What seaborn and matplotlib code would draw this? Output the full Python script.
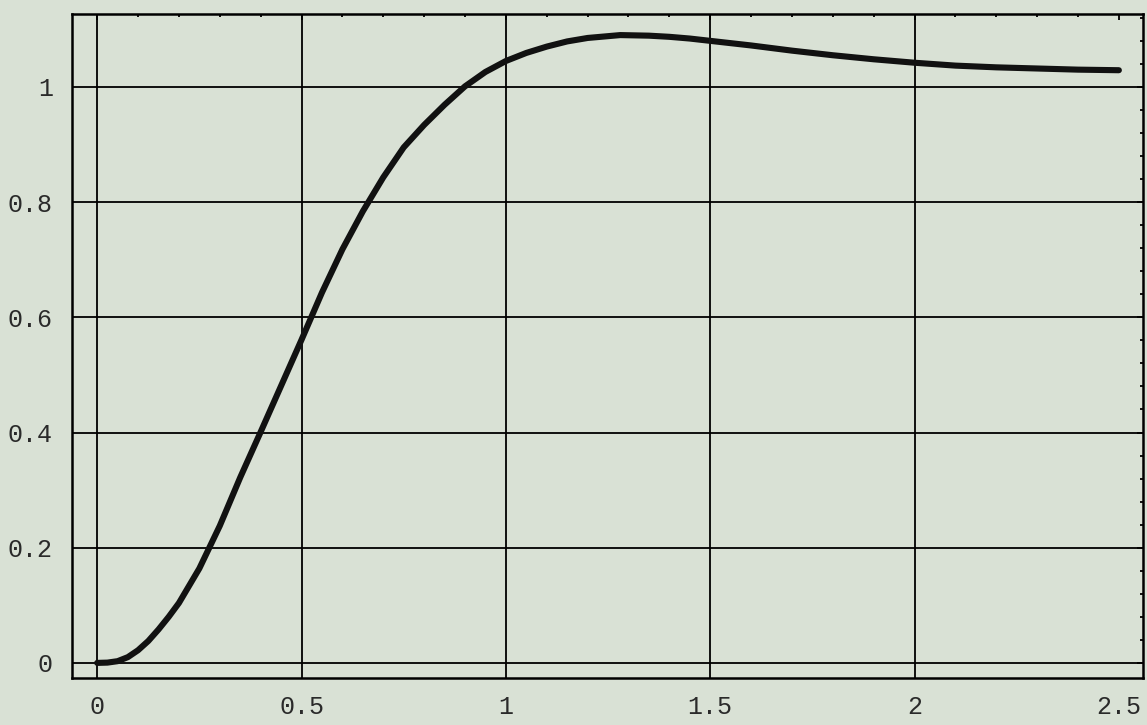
import numpy as np
import pandas as pd
import matplotlib
matplotlib.use("Agg")
import matplotlib.pyplot as plt
from matplotlib.ticker import MultipleLocator
import seaborn as sns

# values
t = [0.0, 0.025, 0.05, 0.075, 0.1, 0.125, 0.15, 0.175, 0.2, 0.25, 0.3,
     0.35, 0.4, 0.45, 0.5, 0.55, 0.6, 0.65, 0.7, 0.75, 0.8, 0.85, 0.9,
     0.95, 1.0, 1.05, 1.1, 1.15, 1.2, 1.28, 1.35, 1.4, 1.45, 1.5, 1.6,
     1.7, 1.8, 1.9, 2.0, 2.1, 2.2, 2.3, 2.4, 2.5]
resp = [0.0, 0.0005, 0.003, 0.01, 0.022, 0.038, 0.058, 0.08, 0.104, 0.164,
        0.238, 0.322, 0.401, 0.481, 0.561, 0.643, 0.718, 0.784, 0.843, 0.895,
        0.934, 0.969, 1.001, 1.026, 1.045, 1.059, 1.07, 1.079, 1.085, 1.09,
        1.089, 1.087, 1.084, 1.08, 1.072, 1.063, 1.055, 1.048, 1.042, 1.037,
        1.034, 1.032, 1.03, 1.029]

xticks = [0, 0.5, 1, 1.5, 2, 2.5]
xlabels = ["0", "0.5", "1", "1.5", "2", "2.5"]
yticks = [0, 0.2, 0.4, 0.6, 0.8, 1]
ylabels = ["0", "0.2", "0.4", "0.6", "0.8", "1"]
xgrid = [0, 0.5, 1, 1.5, 2]

df = pd.DataFrame({"t": t, "y": resp})

bg = "#d9e1d5"
sns.set_style("white", {"axes.facecolor": bg, "figure.facecolor": bg})
plt.rcParams["font.family"] = ["Liberation Mono", "DejaVu Sans Mono"]

fig = plt.figure(figsize=(11.47, 7.25), dpi=100)
ax = fig.add_axes([0.063, 0.065, 0.9335, 0.916])

# grid lines (none at 2.5 in the original)
for gx in xgrid:
    ax.axvline(gx, color="black", lw=1.3, zorder=1)
for gy in yticks:
    ax.axhline(gy, color="black", lw=1.3, zorder=1)

sns.lineplot(data=df, x="t", y="y", color="#111111", linewidth=4.4, ax=ax, zorder=3)

ax.set_xlim(-0.061, 2.559)
ax.set_ylim(-0.026, 1.127)
ax.set_xticks(xticks)
ax.set_xticklabels(xlabels)
ax.set_yticks(yticks)
ax.set_yticklabels(ylabels)
ax.xaxis.set_minor_locator(MultipleLocator(0.1))
ax.yaxis.set_minor_locator(MultipleLocator(0.04))
ax.tick_params(which="both", direction="in", top=True, right=True,
               colors="black", width=1.3, labelcolor="#2a2a2a")
ax.tick_params(which="major", length=4, labelsize=18, pad=12)
ax.tick_params(which="minor", length=2.5)
ax.tick_params(axis="y", which="major", pad=14)
ax.set_xlabel("")
ax.set_ylabel("")
for s in ax.spines.values():
    s.set_visible(True)
    s.set_color("black")
    s.set_linewidth(1.8)

fig.savefig("out.png", dpi=100, facecolor=bg)
